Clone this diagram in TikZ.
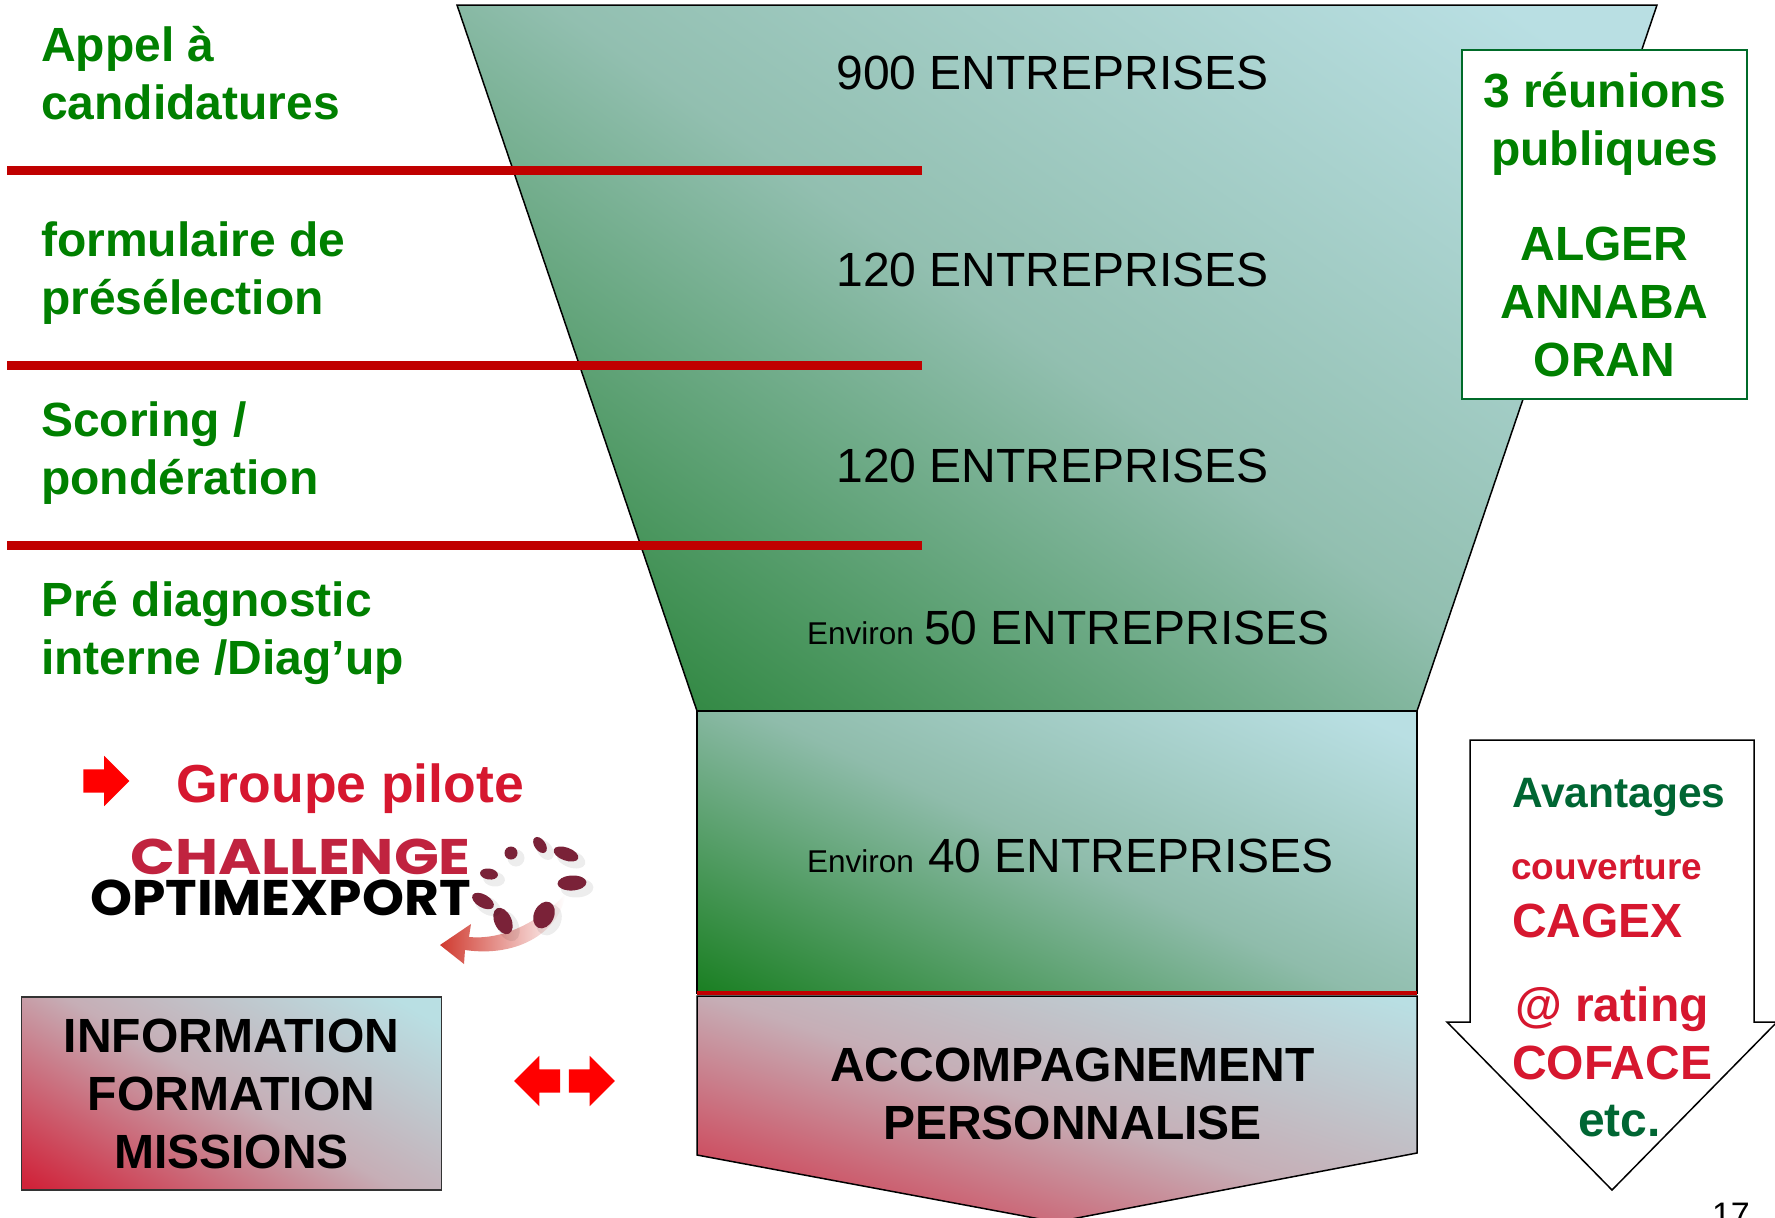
\documentclass[tikz,border=0pt]{standalone}
\usepackage{fontspec}
\setmainfont{Liberation Sans}
\newfontfamily\logofont{Poppins}
\usetikzlibrary{shapes.arrows}
\definecolor{palegreen}{HTML}{B9DFE3}
\definecolor{deepgreen}{HTML}{2A843A}
\definecolor{boxgreen}{HTML}{1A7F22}
\definecolor{midgreen}{HTML}{92BFB0}
\definecolor{boxmid}{HTML}{8FBCAB}
\definecolor{deepred}{HTML}{D0233A}
\definecolor{midrose}{HTML}{C6AEB6}
\definecolor{labelgreen}{HTML}{008000}
\definecolor{labelred}{HTML}{D6172F}
\definecolor{darkgreen}{HTML}{006633}
\definecolor{linered}{HTML}{C00000}
\definecolor{logored}{HTML}{C0233F}
\definecolor{logodot}{HTML}{7A2238}
\pgfdeclareverticalshading{funnelfade}{100bp}{color(0bp)=(deepgreen); color(20bp)=(deepgreen); color(50bp)=(midgreen); color(80bp)=(palegreen); color(100bp)=(palegreen)}
\pgfdeclareverticalshading{greenfade}{100bp}{color(0bp)=(boxgreen); color(17bp)=(boxgreen); color(50bp)=(boxmid); color(80bp)=(palegreen); color(100bp)=(palegreen)}
\pgfdeclareverticalshading{redfade}{100bp}{color(0bp)=(deepred); color(17bp)=(deepred); color(50bp)=(midrose); color(80bp)=(palegreen); color(100bp)=(palegreen)}
\tikzset{
  greenlabel/.style={inner sep=0pt, anchor=west, align=left, text=labelgreen, font=\bfseries\fontsize{48}{58}\selectfont},
  volume/.style={inner sep=0pt, anchor=base, font=\fontsize{48}{58}\selectfont},
  volumeb/.style={inner sep=0pt, anchor=base west, font=\fontsize{48}{58}\selectfont},
  arrowtext/.style={inner sep=0pt, anchor=base west, font=\bfseries\fontsize{48}{58}\selectfont},
  redline/.style={line width=9pt, color=linered},
  redarrow/.style={single arrow, fill=red, inner sep=0pt, minimum height=46pt, single arrow head extend=13.5pt, single arrow head indent=0pt},
  logodrop/.style={fill=logodot},
}
\newcommand{\envsize}{\fontsize{31.5}{36}\selectfont}
\newcommand{\arrowshaft}{\rule{0pt}{23pt}}
\begin{document}
\begin{tikzpicture}[x=1pt, y=-1pt]
\clip (0, 0) rectangle (1775, 1218);
\fill [white] (0, 0) rectangle (1775, 1218);

% funnel
\shade [shading=funnelfade, shading angle=-35, draw=black, line width=1.5pt]
  (457, 5) -- (1657, 5) -- (1417, 711) -- (697, 711) -- cycle;
\shade [shading=greenfade, shading angle=-25, draw=black, line width=1.5pt]
  (697, 711) rectangle (1417, 993);
\shade [shading=redfade, shading angle=-18, draw=black, line width=1.5pt]
  (697, 996) -- (1417, 996) -- (1417, 1153) -- (1056, 1222) -- (697, 1155) -- cycle;
\draw [line width=4pt, color=linered] (697, 993) -- (1417, 993);

\coordinate (lineAa) at (7, 170);
\coordinate (lineAb) at (922, 170);
\coordinate (lineBa) at (7, 365);
\coordinate (lineBb) at (922, 365);
\coordinate (lineCa) at (7, 545);
\coordinate (lineCb) at (922, 545);
\draw [redline] (lineAa) -- (lineAb);
\draw [redline] (lineBa) -- (lineBb);
\draw [redline] (lineCa) -- (lineCb);

\node [greenlabel] (appel) at (41, 73) {Appel à\\candidatures};
\node [greenlabel] (formulaire) at (41, 273.5) {formulaire de\\présélection};
\node [greenlabel] (scoring) at (41, 453.5) {Scoring /\\pondération};
\node [greenlabel] (prediag) at (41, 633) {Pré diagnostic\\interne /Diag’up};

\node [volume] (n900) at (1052.5, 89) {900 ENTREPRISES};
\node [volume] (n120a) at (1052.5, 286) {120 ENTREPRISES};
\node [volume] (n120b) at (1052.5, 482) {120 ENTREPRISES};
\node [volumeb] (n50) at (807, 644) {{\envsize Environ}\hspace{10pt}50 ENTREPRISES};
\node [volumeb] (n40) at (807, 872) {{\envsize Environ}\hspace{14pt}40 ENTREPRISES};
\node [inner sep=0pt, align=center, font=\bfseries\fontsize{48}{58}\selectfont] (accomp) at (1072.5, 1094) {ACCOMPAGNEMENT\\PERSONNALISE};

% reunions
\node [draw=darkgreen!80!labelgreen, line width=1.5pt, fill=white, minimum width=285pt, minimum height=349pt, inner sep=0pt, align=center, text=labelgreen, font=\bfseries\fontsize{48}{58}\selectfont] (reunions) at (1604.5, 224.5) {3 réunions\\publiques\\[37pt]ALGER\\ANNABA\\ORAN};

% down arrow
\draw [fill=white, line width=1.5pt] (1470, 740) -- (1754, 740) -- (1754, 1022) -- (1777, 1022) -- (1612, 1190) -- (1447, 1022) -- (1470, 1022) -- cycle;
\node [arrowtext, text=darkgreen, font=\bfseries\fontsize{42.5}{50}\selectfont] (avantages) at (1512, 807) {Avantages};
\node [arrowtext, text=labelred, font=\bfseries\fontsize{37}{44}\selectfont] (couverture) at (1511, 879) {couverture};
\node [arrowtext, text=labelred] (cagex) at (1512, 937) {CAGEX};
\node [arrowtext, text=labelred] (rating) at (1515, 1021) {@ rating};
\node [arrowtext, text=labelred] (coface) at (1512, 1079) {COFACE};
\node [arrowtext, text=darkgreen] (etc) at (1578, 1136) {etc.};

\node [inner sep=0pt, anchor=base east, font=\fontsize{34}{38}\selectfont] (pagenum) at (1750, 1226) {17};

% left side
\node [redarrow] (arrowpilote) at (100.5, 781) {\arrowshaft};
\node [inner sep=0pt, anchor=base west, text=labelred, font=\bfseries\fontsize{53.5}{60}\selectfont] (pilote) at (176, 802) {Groupe pilote};

% logo
\node [inner sep=0pt, anchor=base east, text=logored, font=\logofont\bfseries\fontsize{50}{56}\selectfont] (challenge) at (471, 874) {\scalebox{1.177}[1]{CHALLENGE}};
\node [inner sep=0pt, anchor=base east, font=\logofont\bfseries\fontsize{50}{56}\selectfont] (optimexport) at (471, 915) {\scalebox{1.069}[1]{OPTIMEXPORT}};
\shade [left color=logored!75!orange, right color=white, shading angle=90]
  (440, 945) -- (471, 924) -- (469, 937) .. controls (500, 940) and (535, 925) .. (565, 895)
  .. controls (560, 930) and (520, 958) .. (465, 950) -- (464, 964) -- cycle;
\foreach \dx/\dy/\ra/\rb/\rot in {511/853/6.5/6.5/0, 540/845/9/5.5/-55, 566/854/13/6.5/-20, 572/883/14.5/7.5/3, 544/915/14/10/65, 503/921/14/8.5/-65, 483/901/12/6.5/-30, 489/874/9/5.5/-8} {
  \fill [black, opacity=0.07] (\dx+5, \dy+5) ellipse [x radius=\ra+2, y radius=\rb+2, rotate=\rot];
  \fill [logodrop] (\dx, \dy) ellipse [x radius=\ra, y radius=\rb, rotate=\rot];
}

% information box
\node [draw=black!80, line width=1.5pt, shade, shading=redfade, shading angle=-30, minimum width=420pt, minimum height=193pt, inner sep=0pt, align=center, font=\bfseries\fontsize{48}{58}\selectfont] (infobox) at (231.5, 1093.5) {INFORMATION\\FORMATION\\MISSIONS};
\node [redarrow, shape border rotate=180] (arrowleft) at (543, 1081) {\arrowshaft};
\node [redarrow] (arrowright) at (586, 1081) {\arrowshaft};
\end{tikzpicture}
\end{document}
